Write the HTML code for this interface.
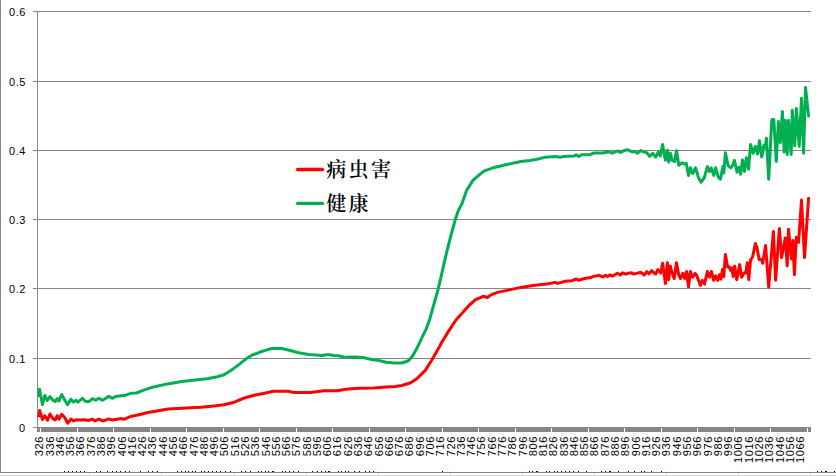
<!DOCTYPE html>
<html><head><meta charset="utf-8"><title>chart</title>
<style>
html,body{margin:0;padding:0;background:#fff;overflow:hidden}
svg{display:block}
.ax{font-family:"Liberation Sans",sans-serif;font-size:11px;fill:#000}
.lg{font-family:"Liberation Serif","Noto Serif CJK SC",serif;font-weight:600;font-size:20px;letter-spacing:2.3px;fill:#000}
</style></head><body>
<svg width="836" height="476" viewBox="0 0 836 476">
<rect x="0" y="0" width="836" height="476" fill="#fff"/>
<g shape-rendering="crispEdges">
<rect x="0" y="475" width="836" height="1" fill="#d4d7dc"/>
<rect x="89" y="471" width="1" height="4" fill="#dde1ea"/>
<rect x="161" y="471" width="1" height="4" fill="#dde1ea"/>
<rect x="234" y="471" width="1" height="4" fill="#dde1ea"/>
<rect x="306" y="471" width="1" height="4" fill="#dde1ea"/>
<rect x="378" y="471" width="1" height="4" fill="#dde1ea"/>
<rect x="450" y="471" width="1" height="4" fill="#dde1ea"/>
<rect x="522" y="471" width="1" height="4" fill="#dde1ea"/>
<rect x="594" y="471" width="1" height="4" fill="#dde1ea"/>
<rect x="666" y="471" width="1" height="4" fill="#dde1ea"/>
<rect x="738" y="471" width="1" height="4" fill="#dde1ea"/>
<rect x="810" y="471" width="1" height="4" fill="#dde1ea"/>
<rect x="0" y="472" width="836" height="1" fill="#868686"/>
<rect x="0" y="0" width="1" height="473" fill="#868686"/>
<rect x="33" y="11" width="778" height="1" fill="#868686"/>
<rect x="33" y="81" width="778" height="1" fill="#868686"/>
<rect x="33" y="150" width="778" height="1" fill="#868686"/>
<rect x="33" y="219" width="778" height="1" fill="#868686"/>
<rect x="33" y="288" width="778" height="1" fill="#868686"/>
<rect x="33" y="358" width="778" height="1" fill="#868686"/>
<rect x="33" y="427" width="778" height="1" fill="#868686"/>
<rect x="37" y="11" width="1" height="421" fill="#868686"/>
<rect x="37" y="428" width="774" height="4" fill="#868686"/>
<rect x="40" y="428" width="1" height="4" fill="#fff"/>
<rect x="77" y="428" width="1" height="4" fill="#fff"/>
<rect x="113" y="428" width="1" height="4" fill="#fff"/>
<rect x="150" y="428" width="1" height="4" fill="#fff"/>
<rect x="186" y="428" width="1" height="4" fill="#fff"/>
<rect x="223" y="428" width="1" height="4" fill="#fff"/>
<rect x="259" y="428" width="1" height="4" fill="#fff"/>
<rect x="296" y="428" width="1" height="4" fill="#fff"/>
<rect x="332" y="428" width="1" height="4" fill="#fff"/>
<rect x="369" y="428" width="1" height="4" fill="#fff"/>
<rect x="405" y="428" width="1" height="4" fill="#fff"/>
<rect x="442" y="428" width="1" height="4" fill="#fff"/>
<rect x="478" y="428" width="1" height="4" fill="#fff"/>
<rect x="515" y="428" width="1" height="4" fill="#fff"/>
<rect x="551" y="428" width="1" height="4" fill="#fff"/>
<rect x="588" y="428" width="1" height="4" fill="#fff"/>
<rect x="624" y="428" width="1" height="4" fill="#fff"/>
<rect x="661" y="428" width="1" height="4" fill="#fff"/>
<rect x="697" y="428" width="1" height="4" fill="#fff"/>
<rect x="734" y="428" width="1" height="4" fill="#fff"/>
<rect x="770" y="428" width="1" height="4" fill="#fff"/>
<rect x="807" y="428" width="1" height="4" fill="#fff"/>
<rect x="64" y="471" width="1" height="1" fill="#000"/>
<rect x="68" y="471" width="1" height="1" fill="#000"/>
<rect x="72" y="471" width="1" height="1" fill="#000"/>
<rect x="76" y="471" width="1" height="1" fill="#000"/>
<rect x="80" y="471" width="1" height="1" fill="#000"/>
<rect x="84" y="471" width="1" height="1" fill="#000"/>
<rect x="96" y="471" width="1" height="1" fill="#000"/>
<rect x="100" y="471" width="1" height="1" fill="#000"/>
<rect x="107" y="471" width="1" height="1" fill="#000"/>
<rect x="112" y="471" width="1" height="1" fill="#000"/>
<rect x="116" y="471" width="1" height="1" fill="#000"/>
<rect x="120" y="471" width="1" height="1" fill="#000"/>
<rect x="125" y="471" width="1" height="1" fill="#000"/>
<rect x="129" y="471" width="1" height="1" fill="#000"/>
<rect x="140" y="471" width="1" height="1" fill="#000"/>
<rect x="148" y="471" width="1" height="1" fill="#000"/>
<rect x="152" y="471" width="1" height="1" fill="#000"/>
<rect x="157" y="471" width="1" height="1" fill="#000"/>
<rect x="177" y="471" width="1" height="1" fill="#000"/>
<rect x="181" y="471" width="1" height="1" fill="#000"/>
<rect x="185" y="471" width="1" height="1" fill="#000"/>
<rect x="188" y="471" width="1" height="1" fill="#000"/>
<rect x="192" y="471" width="1" height="1" fill="#000"/>
<rect x="195" y="471" width="1" height="1" fill="#000"/>
<rect x="201" y="471" width="1" height="1" fill="#000"/>
<rect x="204" y="471" width="1" height="1" fill="#000"/>
<rect x="208" y="471" width="1" height="1" fill="#000"/>
<rect x="212" y="471" width="1" height="1" fill="#000"/>
<rect x="216" y="471" width="1" height="1" fill="#000"/>
<rect x="220" y="471" width="1" height="1" fill="#000"/>
<rect x="225" y="471" width="1" height="1" fill="#000"/>
<rect x="230" y="471" width="1" height="1" fill="#000"/>
<rect x="241" y="471" width="1" height="1" fill="#000"/>
<rect x="245" y="471" width="1" height="1" fill="#000"/>
<rect x="250" y="471" width="1" height="1" fill="#000"/>
<rect x="258" y="471" width="1" height="1" fill="#000"/>
<rect x="261" y="471" width="1" height="1" fill="#000"/>
<rect x="265" y="471" width="1" height="1" fill="#000"/>
<rect x="268" y="471" width="1" height="1" fill="#000"/>
<rect x="272" y="471" width="1" height="1" fill="#000"/>
<rect x="273" y="471" width="1" height="1" fill="#000"/>
<rect x="282" y="471" width="1" height="1" fill="#000"/>
<rect x="285" y="471" width="1" height="1" fill="#000"/>
<rect x="289" y="471" width="1" height="1" fill="#000"/>
<rect x="293" y="471" width="1" height="1" fill="#000"/>
<rect x="298" y="471" width="1" height="1" fill="#000"/>
<rect x="312" y="471" width="1" height="1" fill="#000"/>
<rect x="317" y="471" width="1" height="1" fill="#000"/>
<rect x="321" y="471" width="1" height="1" fill="#000"/>
<rect x="325" y="471" width="1" height="1" fill="#000"/>
<rect x="328" y="471" width="1" height="1" fill="#000"/>
<rect x="329" y="471" width="1" height="1" fill="#000"/>
<rect x="338" y="471" width="1" height="1" fill="#000"/>
<rect x="341" y="471" width="1" height="1" fill="#000"/>
<rect x="345" y="471" width="1" height="1" fill="#000"/>
<rect x="348" y="471" width="1" height="1" fill="#000"/>
<rect x="354" y="471" width="1" height="1" fill="#000"/>
<rect x="359" y="471" width="1" height="1" fill="#000"/>
<rect x="365" y="471" width="1" height="1" fill="#000"/>
<rect x="369" y="471" width="1" height="1" fill="#000"/>
<rect x="373" y="471" width="1" height="1" fill="#000"/>
<rect x="442" y="471" width="1" height="1" fill="#000"/>
<rect x="529" y="471" width="1" height="1" fill="#000"/>
<rect x="532" y="471" width="1" height="1" fill="#000"/>
<rect x="536" y="471" width="1" height="1" fill="#000"/>
<rect x="537" y="471" width="1" height="1" fill="#000"/>
<rect x="546" y="471" width="1" height="1" fill="#000"/>
<rect x="549" y="471" width="1" height="1" fill="#000"/>
<rect x="554" y="471" width="1" height="1" fill="#000"/>
<rect x="557" y="471" width="1" height="1" fill="#000"/>
<rect x="561" y="471" width="1" height="1" fill="#000"/>
<rect x="565" y="471" width="1" height="1" fill="#000"/>
<rect x="569" y="471" width="1" height="1" fill="#000"/>
<rect x="573" y="471" width="1" height="1" fill="#000"/>
<rect x="578" y="471" width="1" height="1" fill="#000"/>
<rect x="586" y="471" width="1" height="1" fill="#000"/>
<rect x="601" y="471" width="1" height="1" fill="#000"/>
<rect x="605" y="471" width="1" height="1" fill="#000"/>
<rect x="609" y="471" width="1" height="1" fill="#000"/>
<rect x="610" y="471" width="1" height="1" fill="#000"/>
<rect x="618" y="471" width="1" height="1" fill="#000"/>
<rect x="628" y="471" width="1" height="1" fill="#000"/>
<rect x="634" y="471" width="1" height="1" fill="#000"/>
<rect x="641" y="471" width="1" height="1" fill="#000"/>
<rect x="644" y="471" width="1" height="1" fill="#000"/>
<rect x="651" y="471" width="1" height="1" fill="#000"/>
<rect x="661" y="471" width="1" height="1" fill="#000"/>
<rect x="817" y="471" width="1" height="1" fill="#000"/>
<rect x="821" y="471" width="1" height="1" fill="#000"/>
<rect x="825" y="471" width="1" height="1" fill="#000"/>
<rect x="826" y="471" width="1" height="1" fill="#000"/>
<rect x="834" y="471" width="1" height="1" fill="#000"/>
</g>
<text class="ax" x="25.9" y="16" text-anchor="end" letter-spacing="0.5">0.6</text>
<text class="ax" x="25.9" y="86" text-anchor="end" letter-spacing="0.5">0.5</text>
<text class="ax" x="25.9" y="155" text-anchor="end" letter-spacing="0.5">0.4</text>
<text class="ax" x="25.9" y="224" text-anchor="end" letter-spacing="0.5">0.3</text>
<text class="ax" x="25.9" y="293" text-anchor="end" letter-spacing="0.5">0.2</text>
<text class="ax" x="25.9" y="363" text-anchor="end" letter-spacing="0.5">0.1</text>
<text class="ax" x="25.6" y="432" text-anchor="end" letter-spacing="0.5">0</text>
<text class="ax" transform="translate(42.9,436.0) rotate(-90)" text-anchor="end" letter-spacing="0.65">326</text>
<text class="ax" transform="translate(53.9,436.0) rotate(-90)" text-anchor="end" letter-spacing="0.65">336</text>
<text class="ax" transform="translate(63.9,436.0) rotate(-90)" text-anchor="end" letter-spacing="0.65">346</text>
<text class="ax" transform="translate(73.9,436.0) rotate(-90)" text-anchor="end" letter-spacing="0.65">356</text>
<text class="ax" transform="translate(83.9,436.0) rotate(-90)" text-anchor="end" letter-spacing="0.65">366</text>
<text class="ax" transform="translate(94.9,436.0) rotate(-90)" text-anchor="end" letter-spacing="0.65">376</text>
<text class="ax" transform="translate(104.9,436.0) rotate(-90)" text-anchor="end" letter-spacing="0.65">386</text>
<text class="ax" transform="translate(114.9,436.0) rotate(-90)" text-anchor="end" letter-spacing="0.65">396</text>
<text class="ax" transform="translate(125.9,436.0) rotate(-90)" text-anchor="end" letter-spacing="0.65">406</text>
<text class="ax" transform="translate(135.9,436.0) rotate(-90)" text-anchor="end" letter-spacing="0.65">416</text>
<text class="ax" transform="translate(145.9,436.0) rotate(-90)" text-anchor="end" letter-spacing="0.65">426</text>
<text class="ax" transform="translate(155.9,436.0) rotate(-90)" text-anchor="end" letter-spacing="0.65">436</text>
<text class="ax" transform="translate(166.9,436.0) rotate(-90)" text-anchor="end" letter-spacing="0.65">446</text>
<text class="ax" transform="translate(176.9,436.0) rotate(-90)" text-anchor="end" letter-spacing="0.65">456</text>
<text class="ax" transform="translate(186.9,436.0) rotate(-90)" text-anchor="end" letter-spacing="0.65">466</text>
<text class="ax" transform="translate(197.9,436.0) rotate(-90)" text-anchor="end" letter-spacing="0.65">476</text>
<text class="ax" transform="translate(207.9,436.0) rotate(-90)" text-anchor="end" letter-spacing="0.65">486</text>
<text class="ax" transform="translate(217.9,436.0) rotate(-90)" text-anchor="end" letter-spacing="0.65">496</text>
<text class="ax" transform="translate(227.9,436.0) rotate(-90)" text-anchor="end" letter-spacing="0.65">506</text>
<text class="ax" transform="translate(238.9,436.0) rotate(-90)" text-anchor="end" letter-spacing="0.65">516</text>
<text class="ax" transform="translate(248.9,436.0) rotate(-90)" text-anchor="end" letter-spacing="0.65">526</text>
<text class="ax" transform="translate(258.9,436.0) rotate(-90)" text-anchor="end" letter-spacing="0.65">536</text>
<text class="ax" transform="translate(269.9,436.0) rotate(-90)" text-anchor="end" letter-spacing="0.65">546</text>
<text class="ax" transform="translate(279.9,436.0) rotate(-90)" text-anchor="end" letter-spacing="0.65">556</text>
<text class="ax" transform="translate(289.9,436.0) rotate(-90)" text-anchor="end" letter-spacing="0.65">566</text>
<text class="ax" transform="translate(299.9,436.0) rotate(-90)" text-anchor="end" letter-spacing="0.65">576</text>
<text class="ax" transform="translate(310.9,436.0) rotate(-90)" text-anchor="end" letter-spacing="0.65">586</text>
<text class="ax" transform="translate(320.9,436.0) rotate(-90)" text-anchor="end" letter-spacing="0.65">596</text>
<text class="ax" transform="translate(330.9,436.0) rotate(-90)" text-anchor="end" letter-spacing="0.65">606</text>
<text class="ax" transform="translate(340.9,436.0) rotate(-90)" text-anchor="end" letter-spacing="0.65">616</text>
<text class="ax" transform="translate(351.9,436.0) rotate(-90)" text-anchor="end" letter-spacing="0.65">626</text>
<text class="ax" transform="translate(361.9,436.0) rotate(-90)" text-anchor="end" letter-spacing="0.65">636</text>
<text class="ax" transform="translate(371.9,436.0) rotate(-90)" text-anchor="end" letter-spacing="0.65">646</text>
<text class="ax" transform="translate(382.9,436.0) rotate(-90)" text-anchor="end" letter-spacing="0.65">656</text>
<text class="ax" transform="translate(392.9,436.0) rotate(-90)" text-anchor="end" letter-spacing="0.65">666</text>
<text class="ax" transform="translate(402.9,436.0) rotate(-90)" text-anchor="end" letter-spacing="0.65">676</text>
<text class="ax" transform="translate(412.9,436.0) rotate(-90)" text-anchor="end" letter-spacing="0.65">686</text>
<text class="ax" transform="translate(423.9,436.0) rotate(-90)" text-anchor="end" letter-spacing="0.65">696</text>
<text class="ax" transform="translate(433.9,436.0) rotate(-90)" text-anchor="end" letter-spacing="0.65">706</text>
<text class="ax" transform="translate(443.9,436.0) rotate(-90)" text-anchor="end" letter-spacing="0.65">716</text>
<text class="ax" transform="translate(454.9,436.0) rotate(-90)" text-anchor="end" letter-spacing="0.65">726</text>
<text class="ax" transform="translate(464.9,436.0) rotate(-90)" text-anchor="end" letter-spacing="0.65">736</text>
<text class="ax" transform="translate(474.9,436.0) rotate(-90)" text-anchor="end" letter-spacing="0.65">746</text>
<text class="ax" transform="translate(484.9,436.0) rotate(-90)" text-anchor="end" letter-spacing="0.65">756</text>
<text class="ax" transform="translate(495.9,436.0) rotate(-90)" text-anchor="end" letter-spacing="0.65">766</text>
<text class="ax" transform="translate(505.9,436.0) rotate(-90)" text-anchor="end" letter-spacing="0.65">776</text>
<text class="ax" transform="translate(515.9,436.0) rotate(-90)" text-anchor="end" letter-spacing="0.65">786</text>
<text class="ax" transform="translate(526.9,436.0) rotate(-90)" text-anchor="end" letter-spacing="0.65">796</text>
<text class="ax" transform="translate(536.9,436.0) rotate(-90)" text-anchor="end" letter-spacing="0.65">806</text>
<text class="ax" transform="translate(546.9,436.0) rotate(-90)" text-anchor="end" letter-spacing="0.65">816</text>
<text class="ax" transform="translate(556.9,436.0) rotate(-90)" text-anchor="end" letter-spacing="0.65">826</text>
<text class="ax" transform="translate(567.9,436.0) rotate(-90)" text-anchor="end" letter-spacing="0.65">836</text>
<text class="ax" transform="translate(577.9,436.0) rotate(-90)" text-anchor="end" letter-spacing="0.65">846</text>
<text class="ax" transform="translate(587.9,436.0) rotate(-90)" text-anchor="end" letter-spacing="0.65">856</text>
<text class="ax" transform="translate(597.9,436.0) rotate(-90)" text-anchor="end" letter-spacing="0.65">866</text>
<text class="ax" transform="translate(608.9,436.0) rotate(-90)" text-anchor="end" letter-spacing="0.65">876</text>
<text class="ax" transform="translate(618.9,436.0) rotate(-90)" text-anchor="end" letter-spacing="0.65">886</text>
<text class="ax" transform="translate(628.9,436.0) rotate(-90)" text-anchor="end" letter-spacing="0.65">896</text>
<text class="ax" transform="translate(639.9,436.0) rotate(-90)" text-anchor="end" letter-spacing="0.65">906</text>
<text class="ax" transform="translate(649.9,436.0) rotate(-90)" text-anchor="end" letter-spacing="0.65">916</text>
<text class="ax" transform="translate(659.9,436.0) rotate(-90)" text-anchor="end" letter-spacing="0.65">926</text>
<text class="ax" transform="translate(669.9,436.0) rotate(-90)" text-anchor="end" letter-spacing="0.65">936</text>
<text class="ax" transform="translate(680.9,436.0) rotate(-90)" text-anchor="end" letter-spacing="0.65">946</text>
<text class="ax" transform="translate(690.9,436.0) rotate(-90)" text-anchor="end" letter-spacing="0.65">956</text>
<text class="ax" transform="translate(700.9,436.0) rotate(-90)" text-anchor="end" letter-spacing="0.65">966</text>
<text class="ax" transform="translate(711.9,436.0) rotate(-90)" text-anchor="end" letter-spacing="0.65">976</text>
<text class="ax" transform="translate(721.9,436.0) rotate(-90)" text-anchor="end" letter-spacing="0.65">986</text>
<text class="ax" transform="translate(731.9,436.0) rotate(-90)" text-anchor="end" letter-spacing="0.65">996</text>
<text class="ax" transform="translate(741.9,436.0) rotate(-90)" text-anchor="end" letter-spacing="0.65">1006</text>
<text class="ax" transform="translate(752.9,436.0) rotate(-90)" text-anchor="end" letter-spacing="0.65">1016</text>
<text class="ax" transform="translate(762.9,436.0) rotate(-90)" text-anchor="end" letter-spacing="0.65">1026</text>
<text class="ax" transform="translate(772.9,436.0) rotate(-90)" text-anchor="end" letter-spacing="0.65">1036</text>
<text class="ax" transform="translate(783.9,436.0) rotate(-90)" text-anchor="end" letter-spacing="0.65">1046</text>
<text class="ax" transform="translate(793.9,436.0) rotate(-90)" text-anchor="end" letter-spacing="0.65">1056</text>
<text class="ax" transform="translate(803.9,436.0) rotate(-90)" text-anchor="end" letter-spacing="0.65">1066</text>
<polyline fill="none" stroke="#ff0000" stroke-width="3" stroke-linejoin="round" stroke-linecap="butt" points="38.9,417.2 39.7,410.6 42.5,419.5 44.8,415.7 47.5,420.3 50.0,414.0 52.7,418.5 55.2,420.0 57.2,415.7 58.9,419.2 61.7,414.3 64.7,417.5 67.8,423.2 71.0,419.0 73.5,421.0 76.0,419.8 80.4,420.1 84.2,419.8 88.6,420.4 92.4,419.1 95.0,421.0 98.7,419.1 103.1,421.0 108.8,418.9 112.6,420.1 118.3,419.1 120.8,418.5 124.0,419.3 130.3,416.5 137.8,415.0 147.9,412.5 155.5,411.2 168.1,409.1 178.2,408.6 190.8,407.8 200.9,407.3 214.0,405.9 224.1,404.7 234.2,402.2 244.3,398.0 254.4,395.2 264.5,393.3 273.4,391.3 288.5,391.3 293.6,392.5 310.4,392.5 323.8,390.8 337.3,390.8 345.7,389.3 359.1,388.3 374.2,388.0 386.0,387.1 395.0,386.4 401.7,385.5 410.1,383.0 416.8,378.8 425.3,370.4 431.1,361.2 437.0,351.1 442.1,341.8 448.8,330.9 456.3,319.5 463.0,312.3 468.9,305.5 475.6,299.7 483.2,296.3 487.4,297.5 491.6,294.6 497.5,292.4 509.2,289.9 521.0,287.4 532.8,285.4 546.8,284.0 555.2,282.4 557.7,283.4 565.3,281.2 572.0,280.7 576.2,279.0 578.7,280.3 585.5,278.3 589.7,277.8 593.0,276.6 598.9,275.3 603.1,277.0 605.6,275.3 607.6,276.6 609.8,274.8 612.4,276.1 617.4,273.3 620.4,275.0 622.4,272.8 625.8,274.1 628.3,273.3 631.7,272.8 633.4,274.1 637.6,273.1 640.9,272.3 644.3,275.0 646.8,271.6 649.0,273.9 651.6,270.7 654.4,273.4 655.7,274.0 657.8,269.6 660.7,273.0 662.6,263.3 665.4,283.5 667.4,262.7 668.7,279.7 670.2,265.9 672.1,272.8 674.2,278.5 676.5,262.7 678.8,275.3 680.6,278.5 682.8,273.4 684.7,278.5 686.6,271.5 688.5,286.7 690.4,271.5 692.6,277.2 695.1,273.4 696.9,275.9 700.4,285.4 702.3,280.4 704.5,284.1 707.4,271.5 709.5,277.2 711.4,271.5 713.7,280.4 715.6,275.9 717.8,280.4 719.4,274.7 720.9,279.1 722.5,269.6 723.8,276.6 725.4,254.5 727.6,267.1 728.8,266.5 730.7,270.3 731.7,267.7 733.2,276.6 734.7,265.9 736.8,279.7 739.7,264.6 741.6,277.2 744.2,272.8 745.8,273.1 747.3,262.7 748.8,279.7 750.5,260.2 752.7,256.4 755.4,243.5 757.0,247.6 759.1,259.5 761.4,259.5 762.7,263.3 765.6,245.5 768.7,287.2 773.4,231.6 775.6,280.3 779.4,228.4 781.6,257.6 785.3,237.9 787.2,265.8 788.5,229.3 791.4,258.9 792.9,240.4 794.4,274.6 796.4,237.2 798.6,242.3 801.5,200.1 804.5,257.6 808.6,198.2"/>
<polyline fill="none" stroke="#00b050" stroke-width="3" stroke-linejoin="round" stroke-linecap="butt" points="38.9,397.2 39.5,389.3 42.5,404.6 44.8,395.5 47.3,400.5 50.0,396.6 52.7,400.0 55.2,401.6 57.2,398.5 59.0,401.0 61.7,394.5 64.7,400.0 67.6,404.6 70.8,399.4 73.5,402.1 76.0,400.2 77.9,402.1 82.3,398.3 85.5,401.5 89.3,401.5 92.4,398.7 95.6,400.2 98.7,398.3 102.5,400.2 108.8,396.4 112.6,398.3 115.7,396.4 125.2,395.3 131.5,393.2 136.6,393.0 142.9,390.3 150.4,387.8 158.0,386.0 167.5,383.9 180.4,381.7 197.2,379.7 207.3,378.7 217.4,376.7 224.1,374.8 230.8,370.6 239.2,364.4 247.6,357.7 252.7,354.8 259.4,352.3 266.1,350.1 271.7,348.5 281.8,348.5 290.2,350.5 298.6,352.7 308.7,354.4 315.4,354.9 322.1,355.5 328.0,354.5 333.9,355.5 338.9,355.7 344.0,357.2 355.8,356.9 364.2,357.7 370.9,359.4 377.6,360.3 386.0,362.3 394.4,363.1 401.7,363.0 408.4,360.8 412.6,356.1 416.8,348.6 421.9,337.6 426.1,329.2 429.5,320.0 438.3,288.7 443.7,265.2 447.2,250.0 451.5,233.4 455.3,219.5 458.3,210.7 461.6,204.4 466.6,190.5 472.9,180.4 479.2,174.9 484.3,170.8 493.1,167.8 505.7,164.8 520.8,161.5 530.0,160.4 538.4,158.9 545.1,157.2 555.2,156.6 560.3,157.2 563.6,156.4 573.7,156.1 576.2,154.7 578.7,156.4 582.1,154.7 590.5,154.4 593.9,153.0 602.3,153.0 609.0,151.8 612.4,153.2 617.4,151.0 620.8,152.4 624.1,150.5 627.8,149.7 631.7,151.8 635.0,151.8 637.6,153.2 640.6,150.5 643.4,151.8 646.8,152.7 649.7,156.4 652.8,153.3 655.7,157.1 658.2,152.1 660.3,155.9 662.6,144.5 665.4,160.3 667.4,150.2 668.7,162.2 670.4,153.3 672.1,160.3 674.6,161.5 676.5,150.8 678.8,165.3 682.2,162.8 684.0,164.0 686.3,163.4 688.5,175.4 690.4,167.8 692.6,173.5 695.6,167.8 698.5,177.9 701.1,182.3 704.2,177.9 707.4,166.6 709.3,171.6 711.2,167.8 713.7,175.4 715.6,167.8 718.1,176.7 720.4,179.2 722.9,166.6 723.8,172.9 725.4,152.7 728.2,165.9 730.7,167.8 732.6,165.3 734.5,160.3 737.0,172.2 738.9,167.2 740.6,174.1 742.5,160.0 744.4,171.6 746.4,157.7 748.6,169.1 750.5,144.5 753.2,153.3 755.4,146.4 757.6,154.0 759.5,140.7 761.7,157.1 763.9,145.2 765.2,147.7 766.4,138.2 768.7,179.2 771.8,119.8 773.8,119.5 776.3,161.5 778.4,121.6 780.3,142.6 782.4,111.5 784.1,152.1 785.3,120.3 787.2,154.6 788.5,120.3 791.2,154.6 792.3,110.3 794.8,145.8 796.4,108.4 799.2,146.4 801.5,98.3 803.6,153.3 805.5,87.6 808.6,115.9"/>
<circle cx="808.6" cy="198.2" r="1.5" fill="#ff0000"/>
<circle cx="808.6" cy="115.9" r="1.5" fill="#00b050"/>
<line x1="297.6" y1="169.5" x2="322.6" y2="169.5" stroke="#ff0000" stroke-width="3.3" stroke-linecap="round"/>
<line x1="297.6" y1="203.4" x2="322.6" y2="203.4" stroke="#00b050" stroke-width="3.3" stroke-linecap="round"/>
<text class="lg" x="326.3" y="177.1">病虫害</text>
<text class="lg" x="326.3" y="210.9">健康</text>
</svg>
</body></html>
